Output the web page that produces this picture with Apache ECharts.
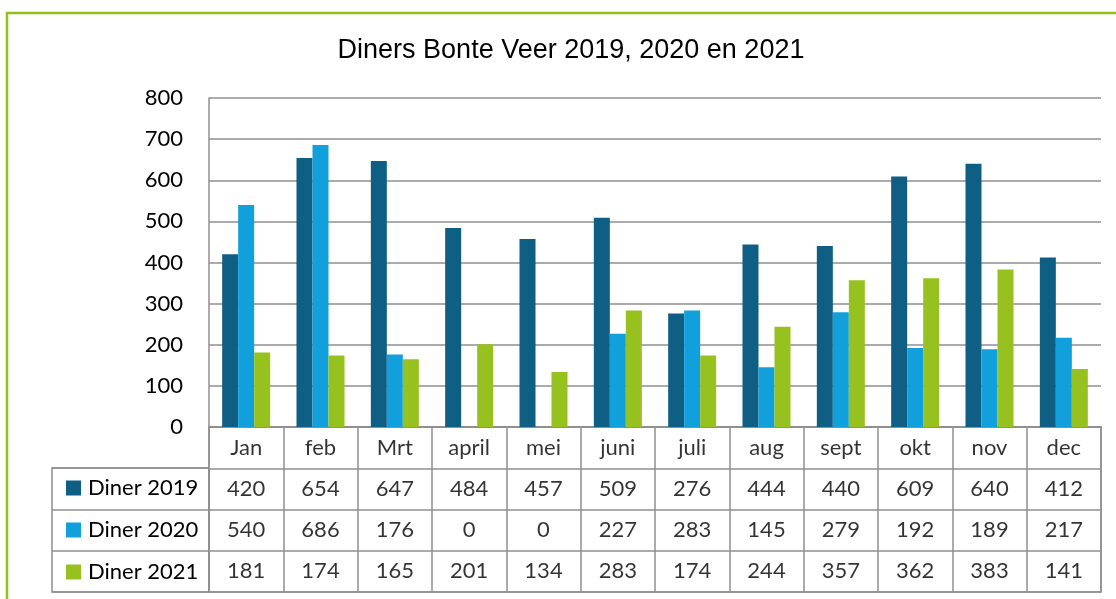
<!DOCTYPE html>
<html>
<head>
<meta charset="utf-8">
<script src="https://cdn.jsdelivr.net/npm/echarts@6/dist/echarts.min.js"></script>
<style>
  html, body { margin: 0; padding: 0; background: #fff; }
  #chart { width: 1116px; height: 599px; }
</style>
</head>
<body>
<div id="chart"></div>
<script>
// chart data
const months = ["Jan", "feb", "Mrt", "april", "mei", "juni", "juli", "aug", "sept", "okt", "nov", "dec"];
const seriesNames = ["Diner 2019", "Diner 2020", "Diner 2021"];
const diner2019 = [420, 654, 647, 484, 457, 509, 276, 444, 440, 609, 640, 412];
const diner2020 = [540, 686, 176, 0, 0, 227, 283, 145, 279, 192, 189, 217];
const diner2021 = [181, 174, 165, 201, 134, 283, 174, 244, 357, 362, 383, 141];
const colors = ["#0E5F83", "#12A0DC", "#96C11F"];

const lineGray = "#8f8f8f";
const font = "Lato";
const fontSize = 22;

// table cells: month row + one row per series
const allValues = [diner2019, diner2020, diner2021];
const tableCells = [];
months.forEach(function (m, i) {
  tableCells.push([i, 0, m]);
});
allValues.forEach(function (vals, r) {
  vals.forEach(function (v, i) {
    tableCells.push([i, r + 1, String(v)]);
  });
});

const myChart = echarts.init(document.getElementById("chart"));

const option = {
  animation: false,
  backgroundColor: "#fff",
  title: {
    text: "Diners Bonte Veer 2019, 2020 en 2021",
    left: 566,
    textAlign: "center",
    top: 32,
    textStyle: {
      fontFamily: "Liberation Sans",
      fontSize: 27,
      fontWeight: "normal",
      color: "#000"
    }
  },
  legend: {
    data: seriesNames,
    orient: "vertical",
    left: 61,
    top: 472,
    itemWidth: 15,
    itemHeight: 15,
    itemGap: 20,
    icon: "rect",
    selectedMode: false,
    textStyle: {
      fontFamily: font,
      fontSize: fontSize,
      lineHeight: 21,
      color: "#000",
      padding: [0, 0, 0, 2]
    }
  },
  graphic: [
    {
      type: "rect",
      shape: { x: 7, y: 13, width: 1200, height: 700 },
      style: { fill: "none", stroke: "#92C01F", lineWidth: 2.5 },
      silent: true
    }
  ],
  grid: [
    { left: 209, top: 98, width: 892, height: 329 },
    { left: 209, top: 427, width: 892, height: 165, show: true, borderColor: lineGray, borderWidth: 1.5 },
    { left: 52, top: 468, width: 157, height: 124, show: true, borderColor: lineGray, borderWidth: 1.5 }
  ],
  xAxis: [
    {
      gridIndex: 0,
      type: "category",
      data: months,
      axisLine: { show: true, lineStyle: { color: lineGray, width: 1.5 } },
      axisTick: { show: false },
      axisLabel: { show: false }
    },
    {
      gridIndex: 1,
      type: "category",
      data: months,
      axisLine: { show: false },
      axisTick: { show: false },
      axisLabel: { show: false },
      splitLine: { show: true, lineStyle: { color: lineGray, width: 1.5 } }
    },
    {
      gridIndex: 2,
      type: "value",
      show: false
    }
  ],
  yAxis: [
    {
      gridIndex: 0,
      type: "value",
      min: 0,
      max: 800,
      interval: 100,
      axisLine: { show: true, lineStyle: { color: lineGray, width: 1.5 } },
      axisTick: { show: false },
      axisLabel: { fontFamily: font, fontSize: fontSize, color: "#000", margin: 26 },
      splitLine: { lineStyle: { color: lineGray, width: 1.5 } }
    },
    {
      gridIndex: 1,
      type: "category",
      data: ["", seriesNames[0], seriesNames[1], seriesNames[2]],
      inverse: true,
      axisLine: { show: false },
      axisTick: { show: false },
      axisLabel: { show: false },
      splitLine: { show: true, lineStyle: { color: lineGray, width: 1.5 } }
    },
    {
      gridIndex: 2,
      type: "category",
      data: seriesNames,
      inverse: true,
      axisLine: { show: false },
      axisTick: { show: false },
      axisLabel: { show: false },
      splitLine: { show: true, lineStyle: { color: lineGray, width: 1.5 } }
    }
  ],
  series: [
    {
      name: seriesNames[0],
      type: "bar",
      data: diner2019,
      barWidth: 16,
      barGap: "0%",
      itemStyle: { color: colors[0] }
    },
    {
      name: seriesNames[1],
      type: "bar",
      data: diner2020,
      barWidth: 16,
      barGap: "0%",
      itemStyle: { color: colors[1] }
    },
    {
      name: seriesNames[2],
      type: "bar",
      data: diner2021,
      barWidth: 16,
      barGap: "0%",
      itemStyle: { color: colors[2] }
    },
    {
      name: "table",
      type: "scatter",
      xAxisIndex: 1,
      yAxisIndex: 1,
      symbolSize: 0,
      silent: true,
      data: tableCells,
      label: {
        show: true,
        position: "inside",
        fontFamily: font,
        fontSize: fontSize,
        color: "#000",
        formatter: function (p) {
          return p.value[2];
        }
      }
    }
  ]
};

myChart.setOption(option);
</script>
</body>
</html>
